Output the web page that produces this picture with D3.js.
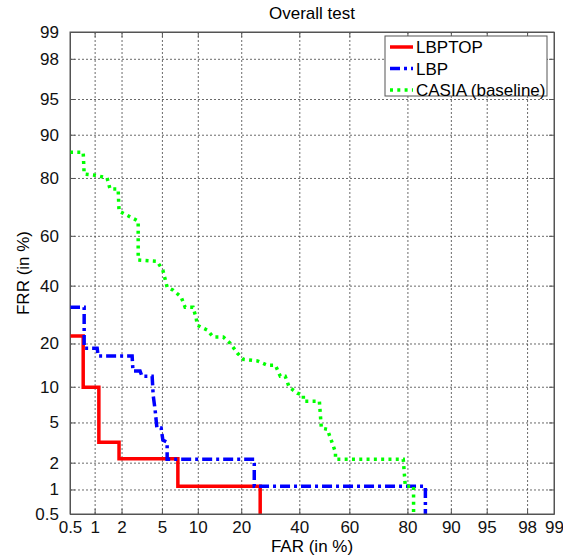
<!DOCTYPE html>
<html lang="en">
<head>
  <meta charset="UTF-8">
  <title>Overall test</title>
  <style>
    body { margin: 0; background: #fff; font-family: Arial, "Liberation Sans", sans-serif; }
    .grid line { stroke: #444; stroke-width: 0.8; stroke-dasharray: 2,2; }
    .grid path { display: none; }
    .axis path, .axis line { stroke: #555; }
    .axis text { font-size: 17px; fill: #111; font-family: Arial, "Liberation Sans", sans-serif; }
  </style>
</head>
<body>
  <div id="chart"></div>
  <script src="https://d3js.org/d3.v7.min.js"></script>
  <script>
    // tick values (in %) for both axes
    const farTicks = [0.5, 1, 2, 5, 10, 20, 40, 60, 80, 90, 95, 98, 99];
    const frrTicks = [0.5, 1, 2, 5, 10, 20, 40, 60, 80, 90, 95, 98, 99];

    // LBPTOP
    const lbptopFar = [0.5, 0.73, 0.73, 1.12, 1.12, 1.88, 1.88, 6.9, 6.9, 25.8, 25.8];
    const lbptopFrr = [22.2, 22.2, 9.9, 9.9, 3.25, 3.25, 2.2, 2.2, 1.09, 1.09, 0.5];

    // LBP
    const lbpFar = [0.5, 0.75, 0.75, 1.07, 1.1, 2.58, 2.63, 3.1, 3.24, 4.06, 4.15, 4.33, 4.5, 4.92, 5.1, 5.57, 5.57, 23.9, 23.9, 84.7, 84.7];
    const lbpFrr = [31.8, 31.8, 18.7, 18.7, 16.6, 16.6, 13.1, 13.1, 12.0, 12.0, 8.6, 6.44, 4.44, 4.44, 3.4, 3.25, 2.18, 2.18, 1.09, 1.09, 0.5];

    // CASIA (baseline)
    const casiaFar = [0.5, 0.73, 0.75, 1.01, 1.39, 1.5, 1.84, 1.88, 2.97, 2.97, 4.5, 5.1, 5.57, 6.29, 7.35, 7.93, 9.19, 9.72, 9.9, 11.8, 13.0, 15.3, 17.0, 18.9, 20.6, 24.9, 28.2, 31.0, 32.8, 34.6, 36.1, 39.2, 41.6, 41.6, 48.0, 48.8, 51.2, 54.5, 54.5, 78.8, 79.4, 81.7, 81.7];
    const casiaFrr = [86.5, 86.5, 81.1, 80.8, 80.0, 76.7, 76.7, 69.3, 65.7, 50.3, 49.8, 46.2, 39.4, 38.2, 35.6, 31.8, 31.8, 28.0, 25.6, 24.0, 21.9, 21.9, 20.1, 17.4, 15.8, 15.4, 14.4, 14.4, 12.0, 12.0, 9.94, 8.9, 8.6, 7.66, 7.66, 4.44, 4.33, 2.58, 2.18, 2.18, 1.09, 1.09, 0.5];

    // inverse normal CDF (Acklam)
    function probit(p) {
      const a = [-39.69683028665376, 220.9460984245205, -275.9285104469687, 138.3577518672690, -30.66479806614716, 2.506628277459239];
      const b = [-54.47609879822406, 161.5858368580409, -155.6989798598866, 66.80131188771972, -13.28068155288572];
      const c = [-0.007784894002430293, -0.3223964580411365, -2.400758277161838, -2.549732539343734, 4.374664141464968, 2.938163982698783];
      const d = [0.007784695709041462, 0.3224671290700398, 2.445134137142996, 3.754408661907416];
      const pl = 0.02425;
      let q, r;
      if (p < pl) {
        q = Math.sqrt(-2 * Math.log(p));
        return (((((c[0]*q+c[1])*q+c[2])*q+c[3])*q+c[4])*q+c[5]) / ((((d[0]*q+d[1])*q+d[2])*q+d[3])*q+1);
      } else if (p <= 1 - pl) {
        q = p - 0.5; r = q * q;
        return (((((a[0]*r+a[1])*r+a[2])*r+a[3])*r+a[4])*r+a[5])*q / (((((b[0]*r+b[1])*r+b[2])*r+b[3])*r+b[4])*r+1);
      }
      q = Math.sqrt(-2 * Math.log(1 - p));
      return -(((((c[0]*q+c[1])*q+c[2])*q+c[3])*q+c[4])*q+c[5]) / ((((d[0]*q+d[1])*q+d[2])*q+d[3])*q+1);
    }
    const pz = v => probit(v / 100);

    const W = 563, H = 556;
    const margin = { top: 32, right: 9, bottom: 42, left: 70 };
    const width = W - margin.left - margin.right;
    const height = H - margin.top - margin.bottom;

    const svg = d3.select('#chart').append('svg')
      .attr('width', W).attr('height', H);
    const g = svg.append('g').attr('transform', `translate(${margin.left},${margin.top})`);

    const x = d3.scaleLinear().domain([pz(0.5), pz(99)]).range([0, width]);
    const y = d3.scaleLinear().domain([pz(0.5), pz(99)]).range([height, 0]);

    const fmt = v => String(farTicks.find(t => Math.abs(pz(t) - v) < 1e-6));

    // grid
    g.append('g').attr('class', 'grid')
      .attr('transform', `translate(0,${height})`)
      .call(d3.axisBottom(x).tickValues(farTicks.slice(1, -1).map(pz)).tickSize(-height).tickFormat(''));
    g.append('g').attr('class', 'grid')
      .call(d3.axisLeft(y).tickValues(frrTicks.slice(1, -1).map(pz)).tickSize(-width).tickFormat(''));

    // axes (ticks inward)
    g.append('g').attr('class', 'axis')
      .attr('transform', `translate(0,${height})`)
      .call(d3.axisBottom(x).tickValues(farTicks.map(pz)).tickSizeInner(-5).tickSizeOuter(0).tickPadding(7).tickFormat(fmt));
    g.append('g').attr('class', 'axis')
      .call(d3.axisLeft(y).tickValues(frrTicks.map(pz)).tickSizeInner(-5).tickSizeOuter(0).tickPadding(11).tickFormat(fmt));
    g.append('g').attr('class', 'axis')
      .call(d3.axisTop(x).tickValues(farTicks.map(pz)).tickSizeInner(-5).tickSizeOuter(0).tickFormat(''));
    g.append('g').attr('class', 'axis')
      .attr('transform', `translate(${width},0)`)
      .call(d3.axisRight(y).tickValues(frrTicks.map(pz)).tickSizeInner(-5).tickSizeOuter(0).tickFormat(''));

    g.append('defs').append('clipPath').attr('id', 'clip')
      .append('rect').attr('width', width).attr('height', height);

    const line = d3.line().x(d => x(pz(d[0]))).y(d => y(pz(d[1])));

    const series = [
      { name: 'LBPTOP', far: lbptopFar, frr: lbptopFrr, color: '#ff0000', dash: null },
      { name: 'LBP', far: lbpFar, frr: lbpFrr, color: '#0000ff', dash: '10,4,3,4' },
      { name: 'CASIA (baseline)', far: casiaFar, frr: casiaFrr, color: '#00ff00', dash: '3,4.3' }
    ];

    series.forEach(s => {
      g.append('path')
        .datum(d3.zip(s.far, s.frr))
        .attr('clip-path', 'url(#clip)')
        .attr('fill', 'none')
        .attr('stroke', s.color)
        .attr('stroke-width', 3.5)
        .attr('stroke-dasharray', s.dash)
        .attr('d', line);
    });

    // box
    g.append('rect').attr('width', width).attr('height', height)
      .attr('fill', 'none').attr('stroke', '#555').attr('stroke-width', 1);

    // legend
    const lg = svg.append('g').attr('transform', 'translate(385,36)');
    lg.append('rect').attr('width', 162).attr('height', 60)
      .attr('fill', '#fff').attr('stroke', '#555');
    series.forEach((s, i) => {
      const yy = 11 + i * 21.5;
      lg.append('line').attr('x1', 5).attr('x2', 28).attr('y1', yy).attr('y2', yy)
        .attr('stroke', s.color).attr('stroke-width', 3.5).attr('stroke-dasharray', s.dash);
      lg.append('text').attr('x', 31).attr('y', yy).attr('dy', '0.36em')
        .style('font-size', '17px').text(s.name);
    });

    // title and axis labels
    svg.append('text').attr('x', margin.left + width / 2).attr('y', 19)
      .attr('text-anchor', 'middle').style('font-size', '17px').text('Overall test');
    svg.append('text').attr('x', margin.left + width / 2).attr('y', 552)
      .attr('text-anchor', 'middle').style('font-size', '17px').text('FAR (in %)');
    svg.append('text')
      .attr('transform', `translate(29,${margin.top + height / 2}) rotate(-90)`)
      .attr('text-anchor', 'middle').style('font-size', '17px').text('FRR (in %)');
  </script>
</body>
</html>
